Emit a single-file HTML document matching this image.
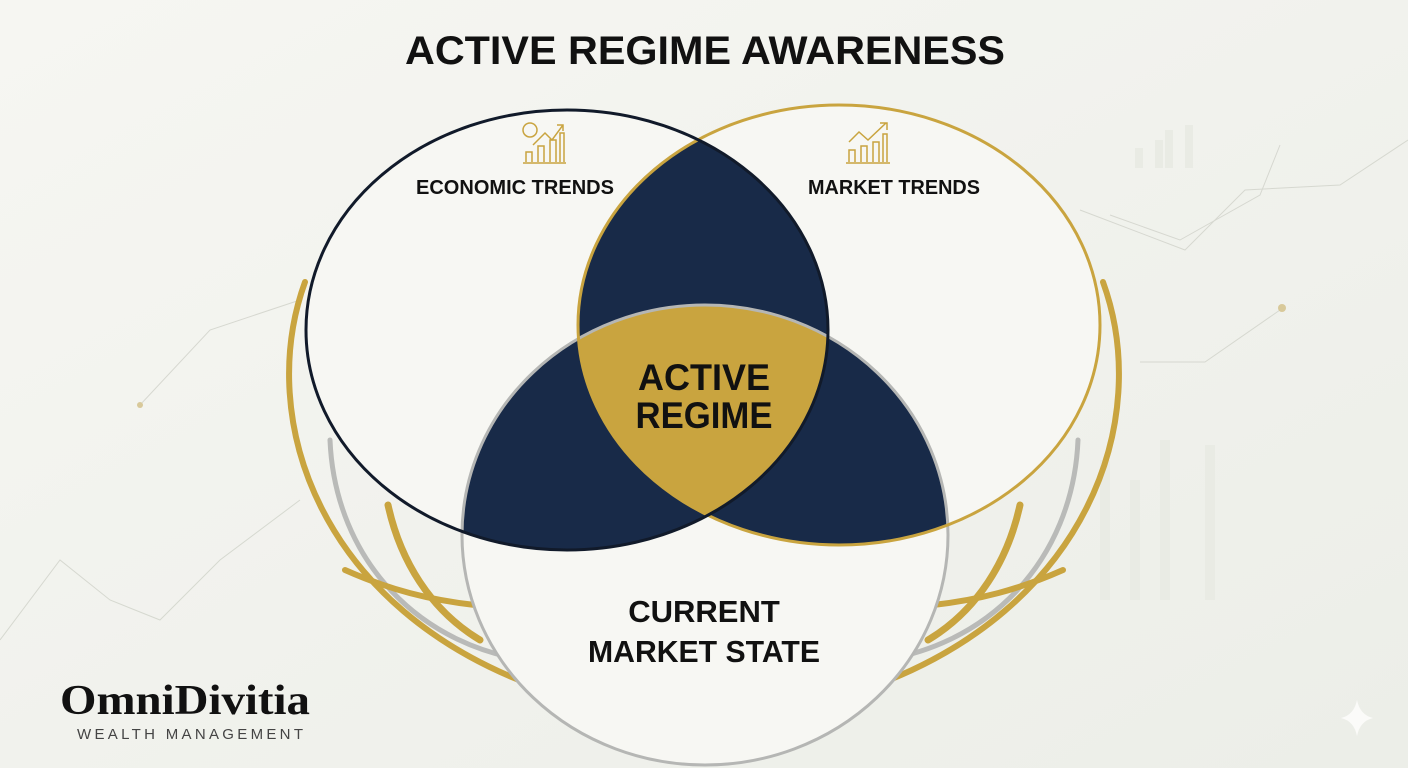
<!DOCTYPE html>
<html><head><meta charset="utf-8"><style>
html,body{margin:0;padding:0;width:1408px;height:768px;overflow:hidden;background:#f1f2ec;}
svg{display:block}
</style></head><body>
<svg width="1408" height="768" viewBox="0 0 1408 768" xmlns="http://www.w3.org/2000/svg">
<defs>
<linearGradient id="bg" x1="0" y1="0" x2="1" y2="1"><stop offset="0" stop-color="#f6f6f2"/><stop offset="1" stop-color="#eceee8"/></linearGradient>
<clipPath id="c1"><ellipse cx="567" cy="330" rx="261" ry="220"/></clipPath>
<clipPath id="c2"><ellipse cx="839" cy="325" rx="261" ry="220"/></clipPath>
<clipPath id="c3"><ellipse cx="705" cy="535" rx="243" ry="230"/></clipPath>
</defs>
<rect width="1408" height="768" fill="url(#bg)"/>
<g stroke="#d6d8d0" stroke-width="1" fill="none">
<path d="M1110,215 L1180,240 L1260,195 L1280,145"/>
<path d="M1080,210 L1185,250 L1245,190 L1340,185 L1408,140"/>
<path d="M1140,362 L1205,362 L1280,310"/>
<path d="M140,405 L210,330 L300,300"/>
<path d="M0,640 L60,560 L110,600 L160,620 L220,560 L300,500"/>
</g>
<g fill="#e9ebe4">
<rect x="1135" y="148" width="8" height="20"/><rect x="1155" y="140" width="8" height="28"/><rect x="1165" y="130" width="8" height="38"/><rect x="1185" y="125" width="8" height="43"/>
<rect x="1100" y="460" width="10" height="140"/><rect x="1130" y="480" width="10" height="120"/><rect x="1160" y="440" width="10" height="160"/><rect x="1205" y="445" width="10" height="155"/>
</g>
<circle cx="1282" cy="308" r="4" fill="#d8c99a"/>
<circle cx="140" cy="405" r="3" fill="#d8c99a"/>
<g fill="none" stroke-linecap="round">
<path d="M305,282 C255,420 320,610 540,688" stroke="#c9a43f" stroke-width="6"/>
<path d="M330,440 C335,560 420,650 540,662" stroke="#b9bab8" stroke-width="5"/>
<path d="M388,505 C400,560 430,610 480,640" stroke="#c9a43f" stroke-width="7"/>
<path d="M345,570 C390,590 430,600 475,605" stroke="#c9a43f" stroke-width="6"/>
<path d="M1103,282 C1153,420 1088,610 868,688" stroke="#c9a43f" stroke-width="6"/>
<path d="M1078,440 C1073,560 988,650 868,662" stroke="#b9bab8" stroke-width="5"/>
<path d="M1020,505 C1008,560 978,610 928,640" stroke="#c9a43f" stroke-width="7"/>
<path d="M1063,570 C1018,590 978,600 933,605" stroke="#c9a43f" stroke-width="6"/>
</g>
<ellipse cx="567" cy="330" rx="261" ry="220" fill="#f7f7f3"/>
<ellipse cx="839" cy="325" rx="261" ry="220" fill="#f7f7f3"/>
<ellipse cx="705" cy="535" rx="243" ry="230" fill="#f7f7f3"/>
<g clip-path="url(#c1)"><ellipse cx="839" cy="325" rx="261" ry="220" fill="#182a48"/><ellipse cx="705" cy="535" rx="243" ry="230" fill="#182a48"/></g>
<g clip-path="url(#c2)"><ellipse cx="705" cy="535" rx="243" ry="230" fill="#182a48"/></g>
<g clip-path="url(#c1)"><g clip-path="url(#c2)"><ellipse cx="705" cy="535" rx="243" ry="230" fill="#c9a43f"/></g></g>
<ellipse cx="705" cy="535" rx="243" ry="230" fill="none" stroke="#b5b6b4" stroke-width="3"/>
<ellipse cx="839" cy="325" rx="261" ry="220" fill="none" stroke="#c9a43f" stroke-width="3"/>
<ellipse cx="567" cy="330" rx="261" ry="220" fill="none" stroke="#111a2a" stroke-width="3"/>
<g fill="none" stroke="#c9a43f" stroke-width="1.5">
<circle cx="530" cy="130" r="7"/>
<path d="M523,163 H566 M526,162 V152 H532 V162 M538,162 V146 H544 V162 M550,162 V140 H556 V162 M560,162 V133 H564 V162 M533,145 L545,133 L552,140 L563,125 M557,125 H563 V131"/>
<path d="M846,163 H890 M849,162 V150 H855 V162 M861,162 V146 H867 V162 M873,162 V142 H879 V162 M883,162 V134 H887 V162 M849,142 L859,132 L868,140 L886,123 M880,123 H887 V130"/>
</g>
<g font-family="Liberation Sans, sans-serif" font-weight="bold" text-anchor="middle">
<text x="705" y="64" font-size="40" fill="#111" textLength="600" lengthAdjust="spacingAndGlyphs">ACTIVE REGIME AWARENESS</text>
<text x="515" y="194" font-size="20" fill="#111" textLength="198" lengthAdjust="spacingAndGlyphs">ECONOMIC TRENDS</text>
<text x="894" y="194" font-size="20" fill="#111" textLength="172" lengthAdjust="spacingAndGlyphs">MARKET TRENDS</text>
<text x="704" y="390" font-size="37" fill="#111" textLength="132" lengthAdjust="spacingAndGlyphs">ACTIVE</text>
<text x="704" y="428" font-size="37" fill="#111" textLength="137" lengthAdjust="spacingAndGlyphs">REGIME</text>
<text x="704" y="622" font-size="31" fill="#111">CURRENT</text>
<text x="704" y="662" font-size="31" fill="#111" textLength="232" lengthAdjust="spacingAndGlyphs">MARKET STATE</text>
</g>
<text x="60" y="714" font-family="Liberation Serif, serif" font-weight="bold" font-size="42" fill="#111" textLength="250" lengthAdjust="spacingAndGlyphs">OmniDivitia</text>
<text x="77" y="739" font-family="Liberation Sans, sans-serif" font-size="15" fill="#444" textLength="226" lengthAdjust="spacing">WEALTH MANAGEMENT</text>
<path d="M1357,700 Q1360,715 1373,718 Q1360,721 1357,736 Q1354,721 1341,718 Q1354,715 1357,700Z" fill="#fbfbf9"/>
</svg>
</body></html>
